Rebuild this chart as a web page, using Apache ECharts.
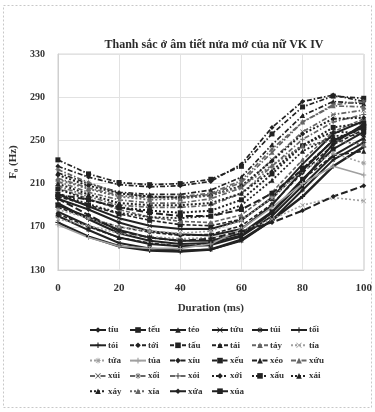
<!DOCTYPE html>
<html>
<head>
<meta charset="utf-8">
<script src="https://cdn.jsdelivr.net/npm/echarts@6/dist/echarts.min.js"></script>
<style>
  html, body { margin: 0; padding: 0; background: #fff; }
  #chart { width: 375px; height: 412px; }
</style>
</head>
<body>
<div id="chart"></div>
<script>
// Time points (ms) along the syllable
const durations = [0, 10, 20, 30, 40, 50, 60, 70, 80, 90, 100];
const xTicks = [0, 20, 40, 60, 80, 100];
const yTicks = [130, 170, 210, 250, 290, 330];

// Syllable names, in legend order
const syllables = [
  'tíu', 'tếu', 'téo', 'tứu', 'túi', 'tối',
  'tói', 'tới', 'tấu', 'tái', 'táy', 'tía',
  'tứa', 'túa', 'xíu', 'xếu', 'xéo', 'xứu',
  'xúi', 'xối', 'xói', 'xới', 'xấu', 'xái',
  'xáy', 'xía', 'xứa', 'xúa'
];

// F0 contours (Hz), one list per syllable
const f0_tiu = [196, 186, 174, 166, 163, 162, 168, 190, 222, 250, 262];
const f0_teu = [190, 179, 167, 160, 157, 157, 164, 184, 214, 242, 258];
const f0_teo = [184, 171, 160, 154, 152, 153, 161, 180, 208, 236, 252];
const f0_tuu = [200, 189, 178, 171, 168, 168, 176, 197, 228, 256, 268];
const f0_tui = [180, 167, 155, 150, 148, 149, 157, 176, 204, 232, 248];
const f0_toi1 = [192, 177, 164, 157, 154, 155, 162, 183, 212, 247, 265];
const f0_toi2 = [174, 161, 152, 148, 147, 149, 158, 176, 198, 226, 244];
const f0_toi3 = [188, 178, 170, 165, 162, 163, 171, 191, 220, 246, 260];
const f0_tau = [198, 190, 182, 176, 172, 171, 177, 196, 224, 250, 263];
const f0_tai = [182, 170, 160, 155, 152, 154, 162, 183, 214, 236, 240];
const f0_tay = [206, 196, 186, 179, 175, 174, 181, 202, 232, 258, 270];
const f0_tia = [177, 171, 164, 161, 159, 160, 166, 177, 190, 197, 194];
const f0_tua1 = [186, 178, 170, 166, 164, 166, 176, 197, 222, 238, 229];
const f0_tua2 = [172, 160, 152, 150, 150, 154, 168, 188, 210, 226, 218];
const f0_xiu = [226, 216, 209, 207, 208, 212, 228, 262, 286, 292, 286];
const f0_xeu = [232, 219, 211, 209, 210, 214, 226, 256, 281, 291, 289];
const f0_xeo = [220, 210, 202, 200, 200, 204, 216, 246, 273, 286, 284];
const f0_xuu = [215, 206, 199, 197, 197, 200, 211, 239, 267, 282, 281];
const f0_xui = [212, 202, 195, 192, 192, 196, 206, 232, 258, 274, 278];
const f0_xoi1 = [223, 211, 201, 198, 198, 201, 213, 242, 267, 283, 286];
const f0_xoi2 = [208, 198, 190, 188, 188, 190, 201, 226, 251, 267, 274];
const f0_xoi3 = [218, 208, 201, 198, 197, 199, 208, 231, 256, 270, 271];
const f0_xau = [205, 195, 188, 185, 183, 185, 195, 219, 245, 262, 266];
const f0_xai = [210, 200, 192, 190, 190, 192, 201, 222, 246, 258, 257];
const f0_xay = [201, 191, 183, 179, 178, 180, 190, 213, 240, 254, 255];
const f0_xia = [214, 205, 198, 195, 196, 199, 207, 227, 245, 250, 246];
const f0_xua1 = [196, 181, 166, 160, 157, 159, 166, 174, 185, 198, 208];
const f0_xua2 = [200, 195, 188, 183, 180, 180, 186, 201, 223, 250, 262];

const contours = [
  f0_tiu, f0_teu, f0_teo, f0_tuu, f0_tui, f0_toi1,
  f0_toi2, f0_toi3, f0_tau, f0_tai, f0_tay, f0_tia,
  f0_tua1, f0_tua2, f0_xiu, f0_xeu, f0_xeo, f0_xuu,
  f0_xui, f0_xoi1, f0_xoi2, f0_xoi3, f0_xau, f0_xai,
  f0_xay, f0_xia, f0_xua1, f0_xua2
];

// Marker shapes
const SYM_X = 'path://M0,1L1,0L5,4L9,0L10,1L6,5L10,9L9,10L5,6L1,10L0,9L4,5Z';
const SYM_PLUS = 'path://M4,0H6V4H10V6H6V10H4V6H0V4H4Z';
const SYM_STAR = 'path://M4.3,0H5.7V3.3L8.1,0.9L9.1,1.9L6.7,4.3H10V5.7H6.7L9.1,8.1L8.1,9.1L5.7,6.7V10H4.3V6.7L1.9,9.1L0.9,8.1L3.3,5.7H0V4.3H3.3L0.9,1.9L1.9,0.9L4.3,3.3Z';

// Line dashes
const SOLID = 'solid';
const DASH = [4, 2];
const DASHDOT = [5, 2, 1.5, 2];
const DOT = [2, 2];
const LONG = [7, 3];

const DARK = '#222222', MID = '#666666', LIGHT = '#a0a0a0';

// Per-series look: [marker, dash, colour, width]
const looks = [
  ['diamond', SOLID, DARK, 2], ['rect', SOLID, DARK, 2], ['triangle', SOLID, DARK, 2],
  [SYM_X, SOLID, DARK, 2], [SYM_STAR, SOLID, DARK, 2], [SYM_PLUS, SOLID, DARK, 2],
  [SYM_PLUS, SOLID, DARK, 2.4], ['diamond', DASH, DARK, 1.6], ['rect', DASH, DARK, 1.6],
  ['triangle', DASH, DARK, 1.6], ['triangle', DASH, MID, 1.6], [SYM_X, DOT, LIGHT, 1.6],
  [SYM_STAR, DOT, LIGHT, 1.6], [SYM_PLUS, SOLID, LIGHT, 1.6], ['diamond', DASHDOT, DARK, 1.7],
  ['rect', DASHDOT, DARK, 1.7], ['triangle', DASHDOT, DARK, 1.7], ['triangle', DASHDOT, MID, 1.7],
  [SYM_X, DASHDOT, MID, 1.7], [SYM_STAR, DASHDOT, MID, 1.7], [SYM_PLUS, DASHDOT, MID, 1.7],
  ['diamond', DOT, DARK, 2], ['rect', DOT, DARK, 2], ['triangle', DOT, DARK, 2],
  ['triangle', DOT, DARK, 1.8], ['triangle', DOT, MID, 1.8], ['diamond', LONG, DARK, 2],
  ['rect', LONG, DARK, 2]
];

const series = syllables.map((name, i) => {
  const [sym, dash, color, w] = looks[i];
  return {
    name: name,
    type: 'line',
    data: durations.map((d, k) => [d, contours[i][k]]),
    symbol: sym,
    symbolSize: 5,
    showAllSymbol: true,
    lineStyle: { color: color, width: w, type: dash },
    itemStyle: { color: color },
    emphasis: { disabled: true },
    animation: false
  };
});

const serif = "'Liberation Serif', 'DejaVu Serif', serif";

// Legend: six columns, laid out row by row
const colLefts = [89, 129, 169, 211, 251, 290];
const legends = colLefts.map((left, c) => ({
  orient: 'vertical',
  left: left,
  top: 324,
  itemWidth: 16,
  itemHeight: 7,
  itemGap: 3.3,
  padding: 0,
  textStyle: { fontFamily: serif, fontWeight: 'bold', fontSize: 9, color: '#333', lineHeight: 12, padding: [0, 0, 0, -3] },
  data: syllables.filter((_, i) => i % 6 === c)
}));

const chart = echarts.init(document.getElementById('chart'), null, { renderer: 'canvas' });
chart.setOption({
  backgroundColor: '#fff',
  animation: false,
  title: {
    text: 'Thanh sắc ở âm tiết nửa mở của nữ VK IV',
    left: 209,
    top: 34,
    textAlign: 'center',
    textStyle: { fontFamily: serif, fontWeight: 'bold', fontSize: 12, color: '#2a2a2a' }
  },
  graphic: [{
    type: 'rect',
    shape: { x: 3.5, y: 5.5, width: 368, height: 402 },
    style: { fill: 'none', stroke: '#c8c8c8', lineWidth: 1, lineDash: [2, 2] },
    silent: true
  }],
  legend: legends,
  grid: { left: 52, right: 10, top: 54, bottom: 142, containLabel: false, show: true, borderColor: '#d8d8d8', borderWidth: 1 },
  xAxis: {
    type: 'value',
    min: xTicks[0],
    max: xTicks[xTicks.length - 1],
    interval: xTicks[1] - xTicks[0],
    name: 'Duration (ms)',
    nameLocation: 'middle',
    nameGap: 33,
    nameTextStyle: { fontFamily: serif, fontWeight: 'bold', fontSize: 11, color: '#333' },
    axisLine: { lineStyle: { color: '#cfcfcf' } },
    axisTick: { show: false },
    axisLabel: { fontFamily: serif, fontWeight: 'bold', fontSize: 11, color: '#333', margin: 13 },
    splitLine: { lineStyle: { color: '#e2e2e2' } }
  },
  yAxis: {
    type: 'value',
    min: yTicks[0],
    max: yTicks[yTicks.length - 1],
    interval: yTicks[1] - yTicks[0],
    name: 'F₀ (Hz)',
    nameLocation: 'middle',
    nameRotate: 90,
    nameGap: 25,
    nameTextStyle: { fontFamily: serif, fontWeight: 'bold', fontSize: 11, color: '#333' },
    axisLine: { show: true, lineStyle: { color: '#cfcfcf' } },
    axisTick: { show: false },
    axisLabel: { fontFamily: serif, fontWeight: 'bold', fontSize: 10, color: '#333', margin: 13 },
    splitLine: { lineStyle: { color: '#e2e2e2' } }
  },
  series: series
});
</script>
</body>
</html>
